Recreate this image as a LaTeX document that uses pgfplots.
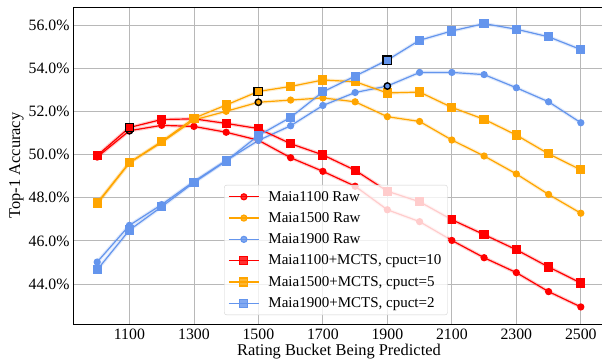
\documentclass[border=0pt]{standalone}
\usepackage{fontspec}
\setmainfont{Liberation Serif}
\usepackage{pgfplots}
\usepackage{pgfplotstable}
\pgfplotsset{compat=1.18}
\definecolor{cred}{HTML}{FF0000}
\definecolor{corange}{HTML}{FFA500}
\definecolor{cblue}{HTML}{6495ED}

\pgfplotstableread{
r    a     d     b     e     c     f
1000 49.88 49.95 47.72 47.75 45.02 44.66
1100 51.10 51.25 49.62 49.62 46.72 46.50
1200 51.35 51.62 50.56 50.60 47.68 47.58
1300 51.30 51.65 51.60 51.68 48.75 48.70
1400 51.03 51.44 52.00 52.29 49.72 49.70
1500 50.66 51.20 52.42 52.92 50.65 50.88
1600 49.85 50.50 52.52 53.15 51.33 51.72
1700 49.22 49.98 52.62 53.45 52.27 52.90
1800 48.53 49.27 52.44 53.37 52.87 53.63
1900 47.44 48.30 51.75 52.85 53.17 54.37
2000 46.89 47.81 51.53 52.89 53.80 55.29
2100 46.02 46.98 50.67 52.18 53.80 55.72
2200 45.22 46.29 49.93 51.63 53.70 56.06
2300 44.53 45.59 49.10 50.90 53.09 55.80
2400 43.65 44.79 48.15 50.03 52.44 55.45
2500 42.94 44.05 47.28 49.29 51.47 54.86
}\data

\begin{document}
\begin{tikzpicture}
\begin{axis}[
  scale only axis, width=532pt, height=317pt,
  xmin=925, xmax=2575, ymin=42.15, ymax=56.83,
  xtick={1100,1300,...,2500},
  ytick={44,46,...,56},
  /pgf/number format/1000 sep={},
  /pgf/number format/assume math mode=true,
  yticklabel={\pgfmathprintnumber[fixed,fixed zerofill,precision=1]{\tick}\%},
  grid=major, grid style={color=black!28, line width=0.8pt},
  major tick length=0,
  axis line style={black, line width=0.8pt},
  tick label style={font=\fontsize{15.8}{17}\selectfont},
  xticklabel style={yshift=-1pt},
  label style={font=\fontsize{16.4}{18}\selectfont},
  ylabel style={yshift=-2pt},
  xlabel style={yshift=2pt},
  xlabel={Rating Bucket Being Predicted},
  ylabel={Top-1 Accuracy},
  legend style={at={(0.284,0.028)}, anchor=south west, fill=white, fill opacity=0.8,
    draw opacity=1, text opacity=1, draw=black!18, rounded corners=2.5pt,
    font=\fontsize{15}{17}\selectfont, row sep=5.8pt, column sep=7pt, inner sep=4pt},
  legend cell align=left,
  legend image code/.code={\draw[mark repeat=2,mark phase=2,#1] plot coordinates {(0pt,0pt)(15pt,0pt)(30pt,0pt)};},
]
\coordinate (O) at (rel axis cs:0,0);
% bands
\addplot[cred, line width=3.5pt, opacity=0.2, forget plot] table[x=r,y=a]{\data};
\addplot[corange, line width=3.5pt, opacity=0.2, forget plot] table[x=r,y=b]{\data};
\addplot[cblue, line width=3.5pt, opacity=0.2, forget plot] table[x=r,y=c]{\data};
\addplot[cred, line width=3.5pt, opacity=0.2, forget plot] table[x=r,y=d]{\data};
\addplot[corange, line width=3.5pt, opacity=0.2, forget plot] table[x=r,y=e]{\data};
\addplot[cblue, line width=3.5pt, opacity=0.2, forget plot] table[x=r,y=f]{\data};
% lines
\addplot[cred, line width=1.2pt, mark=*, mark size=3pt, mark options={draw=cred, fill=cred}] table[x=r,y=a]{\data};
\addlegendentry{Maia1100 Raw}
\addplot[corange, line width=1.2pt, mark=*, mark size=3pt, mark options={draw=corange, fill=corange}] table[x=r,y=b]{\data};
\addlegendentry{Maia1500 Raw}
\addplot[cblue, line width=1.2pt, mark=*, mark size=3pt, mark options={draw=cblue, fill=cblue}] table[x=r,y=c]{\data};
\addlegendentry{Maia1900 Raw}
\addplot[cred, line width=1.2pt, mark=square*, mark size=4pt, mark options={draw=cred, fill=cred}] table[x=r,y=d]{\data};
\addlegendentry{Maia1100+MCTS, cpuct=10}
\addplot[corange, line width=1.2pt, mark=square*, mark size=4pt, mark options={draw=corange, fill=corange}] table[x=r,y=e]{\data};
\addlegendentry{Maia1500+MCTS, cpuct=5}
\addplot[cblue, line width=1.2pt, mark=square*, mark size=4pt, mark options={draw=cblue, fill=cblue}] table[x=r,y=f]{\data};
\addlegendentry{Maia1900+MCTS, cpuct=2}
% highlighted points
\addplot[only marks, mark=*, mark size=3.2pt, mark options={draw=black, fill=cred, line width=1.4pt}, forget plot] coordinates {(1100,51.10)};
\addplot[only marks, mark=square*, mark size=4.2pt, mark options={draw=black, fill=cred, line width=1.4pt}, forget plot] coordinates {(1100,51.25)};
\addplot[only marks, mark=*, mark size=3.2pt, mark options={draw=black, fill=corange, line width=1.4pt}, forget plot] coordinates {(1500,52.42)};
\addplot[only marks, mark=square*, mark size=4.2pt, mark options={draw=black, fill=corange, line width=1.4pt}, forget plot] coordinates {(1500,52.92)};
\addplot[only marks, mark=*, mark size=3.2pt, mark options={draw=black, fill=cblue, line width=1.4pt}, forget plot] coordinates {(1900,53.17)};
\addplot[only marks, mark=square*, mark size=4.2pt, mark options={draw=black, fill=cblue, line width=1.4pt}, forget plot] coordinates {(1900,54.37)};
\end{axis}
\pgfresetboundingbox
\useasboundingbox (O) ++(-73pt,-36pt) rectangle ++(602pt,360pt);
\end{tikzpicture}
\end{document}
